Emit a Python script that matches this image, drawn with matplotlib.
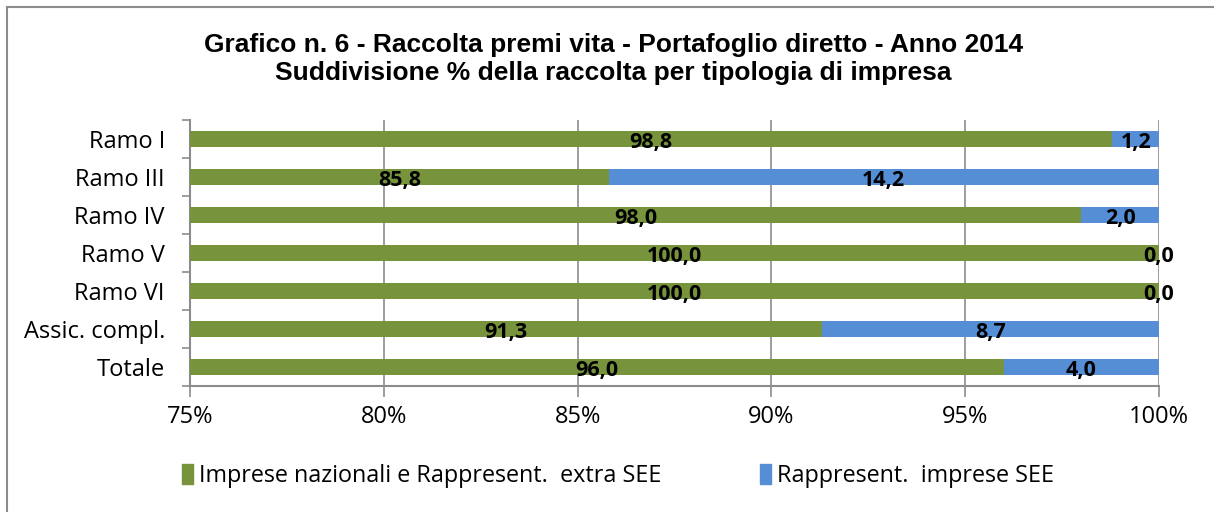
import numpy as np
import matplotlib.pyplot as plt
from matplotlib.patches import Patch
from matplotlib.lines import Line2D

categories = ['Ramo I', 'Ramo III', 'Ramo IV', 'Ramo V', 'Ramo VI', 'Assic. compl.', 'Totale']
nazionali = [98.8, 85.8, 98.0, 100.0, 100.0, 91.3, 96.0]
see = [1.2, 14.2, 2.0, 0.0, 0.0, 8.7, 4.0]
xticks = [75, 80, 85, 90, 95, 100]
series_names = ['Imprese nazionali e Rappresent.  extra SEE', 'Rappresent.  imprese SEE']

GREEN = '#77933C'
BLUE = '#558ED5'
GRID = '#8C8C8C'
body_font = ['Open Sans', 'DejaVu Sans']


def fmt(v):
    return f'{v:.1f}'.replace('.', ',')


def main():
    fig = plt.figure(figsize=(12.14, 5.12), dpi=100)
    ax = fig.add_axes([0.1565, 0.2461, 0.7982, 0.5195])

    y = np.arange(len(categories))
    h = 0.42
    ax.barh(y, nazionali, height=h, color=GREEN, zorder=3)
    ax.barh(y, see, left=nazionali, height=h, color=BLUE, zorder=3)

    xmin, xmax = xticks[0], xticks[-1]
    for i in range(len(categories)):
        g0, g1 = max(0, xmin), nazionali[i]
        ax.text((g0 + g1) / 2, y[i] + 0.08, fmt(nazionali[i]), ha='center', va='center',
                fontsize=15.5, fontweight='bold', family=body_font, zorder=4)
        b0, b1 = nazionali[i], nazionali[i] + see[i]
        ax.text((b0 + b1) / 2, y[i] + 0.08, fmt(see[i]), ha='center', va='center',
                fontsize=15.5, fontweight='bold', family=body_font, zorder=4)

    ax.set_xlim(xmin, xmax)
    ax.set_ylim(len(categories) - 0.5, -0.5)
    ax.set_xticks(xticks)
    ax.set_xticklabels([f'{t}%' for t in xticks], family=body_font, fontsize=17)
    ax.set_yticks(y)
    ax.set_yticklabels(categories, family=body_font, fontsize=17)
    ax.set_yticks(np.arange(-0.5, len(categories), 1.0), minor=True)
    ax.tick_params(axis='y', which='major', length=0, pad=18)
    ax.tick_params(axis='y', which='minor', length=6, color=GRID, width=1.2)
    ax.tick_params(axis='x', which='major', length=8, color=GRID, width=1.2, pad=6)
    ax.grid(axis='x', color=GRID, linewidth=1.2, zorder=1)

    for s in ['top', 'right']:
        ax.spines[s].set_visible(False)
    for s in ['left', 'bottom']:
        ax.spines[s].set_color(GRID)
        ax.spines[s].set_linewidth(1.5)

    fig.text(0.505, 0.912, 'Grafico n. 6 - Raccolta premi vita - Portafoglio diretto - Anno 2014',
             ha='center', va='center', fontsize=19, fontweight='bold', family='Liberation Sans')
    fig.text(0.505, 0.857, 'Suddivisione % della raccolta per tipologia di impresa',
             ha='center', va='center', fontsize=19, fontweight='bold', family='Liberation Sans')

    handles = [Patch(color=GREEN), Patch(color=BLUE)]
    fig.legend(handles, series_names, loc='center', bbox_to_anchor=(0.509, 0.07), ncol=2,
               frameon=False, handlelength=0.5, handleheight=0.9, handletextpad=0.25,
               columnspacing=4.2, prop={'family': body_font, 'size': 16.8})

    # outer chart frame
    fig.add_artist(Line2D([7 / 1214, 7 / 1214], [0, 1 - 7 / 512], color=GRID, lw=1.5))
    fig.add_artist(Line2D([7 / 1214, 1], [1 - 7 / 512, 1 - 7 / 512], color=GRID, lw=1.5))

    plt.savefig('out.png', dpi=100)


if __name__ == '__main__':
    main()
